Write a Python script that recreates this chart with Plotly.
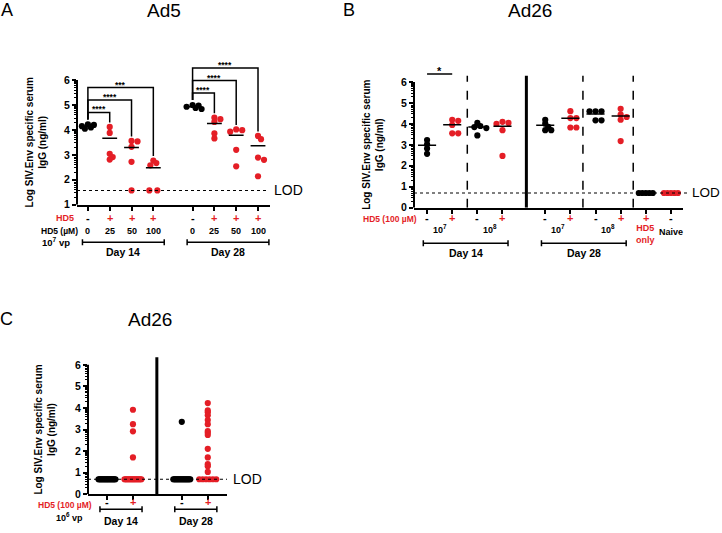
import numpy as np
import plotly.graph_objects as go

W, H = 722, 533
RED = "#E41E26"
FONT = "Liberation Sans, Arial, Helvetica, sans-serif"

# ---------------- DATA (log10 SIV.Env-specific serum IgG, ng/ml) ----------------
# Panel A: Ad5, 10^7 vp
a_hd5 = ["-", "+", "+", "+", "-", "+", "+", "+"]
a_dose = ["0", "25", "50", "100", "0", "25", "50", "100"]
a_days = ["Day 14", "Day 28"]
a_d14_0 = [4.22, 4.20, 4.15, 4.10, 4.05]
a_d14_25 = [4.12, 3.88, 3.04, 2.91, 2.81]
a_d14_50 = [3.56, 3.54, 3.32, 2.72, 1.57]
a_d14_100 = [2.77, 2.67, 2.58, 1.57, 1.57]
a_d28_0 = [5.00, 4.98, 4.93, 4.88, 4.84]
a_d28_25 = [4.49, 4.43, 4.32, 3.86, 3.66]
a_d28_50 = [4.02, 3.99, 3.93, 3.20, 2.54]
a_d28_100 = [3.76, 3.63, 2.89, 2.80, 2.14]
a_sig = ["****", "****", "***", "****", "****", "****"]
a_lod = 1.57

# Panel B: Ad26
b_hd5 = ["-", "+", "-", "+", "-", "+", "-", "+", "+", "-"]
b_vp = ["10<sup>7</sup>", "10<sup>8</sup>", "10<sup>7</sup>", "10<sup>8</sup>"]
b_days = ["Day 14", "Day 28"]
b_d14_e7_neg = [3.23, 3.02, 2.82, 2.57]
b_d14_e7_pos = [4.20, 4.15, 3.95, 3.55, 3.55]
b_d14_e8_neg = [4.05, 3.90, 3.85, 3.80, 3.45]
b_d14_e8_pos = [4.10, 4.05, 4.00, 3.70, 2.47]
b_d28_e7_neg = [4.20, 4.01, 3.86, 3.70, 3.70]
b_d28_e7_pos = [4.61, 4.28, 4.28, 3.83, 3.83]
b_d28_e8_neg = [4.60, 4.60, 4.60, 4.17, 4.17]
b_d28_e8_pos = [4.72, 4.44, 4.33, 4.20, 3.18]
b_hd5_only = [0.70, 0.70, 0.70, 0.70, 0.70]
b_naive = [0.70, 0.70, 0.70, 0.70, 0.70]
b_sig = ["*"]
b_lod = 0.70

# Panel C: Ad26, 10^6 vp
c_hd5 = ["-", "+", "-", "+"]
c_days = ["Day 14", "Day 28"]
c_d14_neg = [0.70, 0.70, 0.70, 0.70, 0.70, 0.70, 0.70, 0.70, 0.70, 0.70,
             0.70, 0.70, 0.70, 0.70, 0.70, 0.70, 0.70, 0.70, 0.70, 0.70]
c_d14_pos = [3.92, 3.25, 2.92, 1.71, 0.70, 0.70, 0.70, 0.70, 0.70, 0.70,
             0.70, 0.70, 0.70, 0.70, 0.70, 0.70, 0.70, 0.70, 0.70, 0.70]
c_d28_neg = [3.36, 0.70, 0.70, 0.70, 0.70, 0.70, 0.70, 0.70, 0.70, 0.70,
             0.70, 0.70, 0.70, 0.70, 0.70, 0.70, 0.70, 0.70, 0.70, 0.70]
c_d28_pos = [4.23, 3.89, 3.80, 3.66, 3.44, 3.25, 2.93, 2.85, 2.75, 2.11,
             1.71, 1.40, 1.30, 1.04, 0.70, 0.70, 0.70, 0.70, 0.70, 0.70]
c_lod = 0.70

# ---------------- LAYOUT ----------------
def PX(p):
    return p / W


def PY(p):
    return 1 - p / H


POS = {
    "A": [0, 1, 2, 3, 4.8, 5.8, 6.8, 7.8],
    "B": [0, 1, 2, 3, 4.7, 5.7, 6.7, 7.7, 8.7, 9.7],
    "C": [0, 1, 2.88, 3.88],
}
PANELS = {
    "A": dict(ax="", xpx=(77, 270), xr=(-0.5, 8.35), ylo=(1, 207), yhi=(6, 81), ytop=6.9),
    "B": dict(ax="2", xpx=(414, 683), xr=(-0.52, 10.18), ylo=(0, 210), yhi=(6, 83), ytop=6.6),
    "C": dict(ax="3", xpx=(88, 227), xr=(-0.73, 4.62), ylo=(0, 500), yhi=(6, 369), ytop=6.5),
}

fig = go.Figure()
shapes, anns = [], []


def ann(text, x, y, xref="paper", yref="paper", size=10, color="black",
        xanchor="center", yanchor="middle", **kw):
    anns.append(dict(text=text, x=x, y=y, xref=xref, yref=yref, showarrow=False,
                     xanchor=xanchor, yanchor=yanchor, borderpad=0,
                     font=dict(family=FONT, size=size, color=color), **kw))


for key, p in PANELS.items():
    uy = (p["ylo"][1] - p["yhi"][1]) / (p["yhi"][0] - p["ylo"][0])
    ux = (p["xpx"][1] - p["xpx"][0]) / (p["xr"][1] - p["xr"][0])
    top_px = p["yhi"][1] - (p["ytop"] - p["yhi"][0]) * uy
    p["ux"], p["uy"] = ux, uy
    lo = p["ylo"][0]
    majors = list(range(lo, 7))
    minors = [k + np.log10(m) for k in range(lo, 6) for m in range(2, 10)]
    fig.layout["xaxis" + p["ax"]] = dict(
        domain=[PX(p["xpx"][0]), PX(p["xpx"][1])], range=list(p["xr"]),
        anchor="y" + p["ax"], showline=True, linecolor="black", linewidth=2,
        ticks="outside", ticklen=4, tickwidth=1.5, tickcolor="black",
        tickmode="array", tickvals=POS[key], showticklabels=False,
        showgrid=False, zeroline=False, fixedrange=True)
    fig.layout["yaxis" + p["ax"]] = dict(
        domain=[PY(p["ylo"][1]), PY(top_px)], range=[lo, p["ytop"]],
        anchor="x" + p["ax"], showline=False,
        ticks="outside", ticklen=4, tickwidth=1.5, tickcolor="black",
        tickmode="array", tickvals=majors, ticktext=[f"<b>{v}</b>" for v in majors],
        tickfont=dict(family=FONT, size=10.5, color="black"),
        minor=dict(tickmode="array", tickvals=minors, ticks="outside", ticklen=2,
                   tickwidth=1, tickcolor="black"),
        showgrid=False, zeroline=False, fixedrange=True)
    # y axis line from the lowest major tick to 6
    shapes.append(dict(type="line", xref=f"x{p['ax']} domain", yref="y" + p["ax"],
                       x0=0, x1=0, y0=lo, y1=6, line=dict(color="black", width=2)))


def swarm(vals, ux, uy, diam=6.0, lod=None, lod_half=0.0, stack=False):
    n = len(vals)
    off = [0.0] * n
    lod_idx = [i for i, v in enumerate(vals) if lod is not None and abs(v - lod) < 1e-9]
    if len(lod_idx) < 2:
        lod_idx = []
    for j, i in enumerate(lod_idx):
        off[i] = -lod_half + 2 * lod_half * j / (len(lod_idx) - 1)
    if stack:
        return off
    placed = [(off[i] * ux, vals[i] * uy) for i in lod_idx]
    rest = [i for i in range(n) if i not in lod_idx]
    for i in sorted(rest, key=lambda i: -vals[i]):
        yv = vals[i] * uy
        c = 0.0
        for k in range(40):
            c = ((k + 1) // 2) * (1 if k % 2 else -1) * diam * 0.5
            if all(np.hypot(c - px, yv - py) >= diam * 0.65 for px, py in placed):
                break
        placed.append((c, yv))
        off[i] = c / ux
    return off


def plot_groups(key, groups, colors, lod, lod_half_px, stack=False, mean_mask=None,
                mean_half=0.34):
    p = PANELS[key]
    pos = POS[key]
    mx, my = [], []
    for g, (vals, col, x0) in enumerate(zip(groups, colors, pos)):
        off = swarm(vals, p["ux"], p["uy"], lod=lod, lod_half=lod_half_px / p["ux"],
                    stack=stack)
        fig.add_trace(go.Scatter(
            x=[x0 + o for o in off], y=vals, mode="markers",
            marker=dict(size=6.2, color=col, line=dict(width=0)),
            xaxis="x" + p["ax"], yaxis="y" + p["ax"], cliponaxis=False,
            showlegend=False, hoverinfo="skip"))
        if mean_mask is not None and mean_mask[g]:
            m = float(np.log10(np.mean(np.power(10.0, vals))))
            mx += [x0 - mean_half, x0 + mean_half, None]
            my += [m, m, None]
    if mx:
        fig.add_trace(go.Scatter(x=mx, y=my, mode="lines",
                                 line=dict(color="black", width=1.5),
                                 xaxis="x" + p["ax"], yaxis="y" + p["ax"],
                                 showlegend=False, hoverinfo="skip"))


def sign_color(s):
    return RED if s == "+" else "black"


def bracket(xref, x0, x1, ypx, cap=3):
    path = (f"M {x0},{PY(ypx - cap)} L {x0},{PY(ypx + cap)} "
            f"M {x0},{PY(ypx)} L {x1},{PY(ypx)} "
            f"M {x1},{PY(ypx - cap)} L {x1},{PY(ypx + cap)}")
    shapes.append(dict(type="path", xref=xref, yref="paper", path=path,
                       line=dict(color="black", width=1.5)))


# ---------------- PANEL A ----------------
a_groups = [a_d14_0, a_d14_25, a_d14_50, a_d14_100, a_d28_0, a_d28_25, a_d28_50, a_d28_100]
a_colors = [sign_color(s) for s in a_hd5]
shapes.append(dict(type="line", xref="paper", yref="y", x0=PX(77), x1=PX(268),
                   y0=a_lod, y1=a_lod, line=dict(color="black", width=1.1, dash="dot")))
ann("LOD", PX(273), a_lod, "paper", "y", 14, xanchor="left")
plot_groups("A", a_groups, a_colors, a_lod, 4, mean_mask=[True] * 8)

posA = POS["A"]
a_pairs = [(0, 1), (0, 2), (0, 3), (4, 5), (4, 6), (4, 7)]
a_level = [0, 1, 2, 0, 1, 2]
for (i, j), lab, k in zip(a_pairs, a_sig, a_level):
    base = max(a_groups[i])
    top = base + 0.48 + 0.5 * k
    lb = base + 0.2
    rb = max(a_groups[j]) + 0.18
    shapes.append(dict(type="path", xref="x", yref="y",
                       path=f"M {posA[i]},{lb} L {posA[i]},{top} L {posA[j]},{top} L {posA[j]},{rb}",
                       line=dict(color="black", width=1.5)))
    ann(f"<b>{lab}</b>", (posA[i] + posA[j]) / 2, top, "x", "y", 8.5,
        yanchor="bottom", yshift=-3)

ann("<b>HD5</b>", PX(75), PY(220), size=9, color=RED, xanchor="right")
for x, s in zip(posA, a_hd5):
    ann(f"<b>{s}</b>", x, PY(220), "x", "paper", 11, sign_color(s))
ann("<b>HD5 (µM)</b>", PX(79), PY(234), size=8.5, xanchor="right")
for x, d in zip(posA, a_dose):
    ann(f"<b>{d}</b>", x, PY(234), "x", "paper", 9)
ann("<b>10<sup>7</sup> vp</b>", PX(56), PY(245), size=9.5)
for day, (g0, g1) in zip(a_days, [(0, 3), (4, 7)]):
    x0, x1 = posA[g0] - 0.25, posA[g1] + 0.5
    bracket("x", x0, x1, 245)
    ann(f"<b>{day}</b>", (x0 + x1) / 2, PY(255), "x", "paper", 10.5)

ann("A", PX(7), PY(10), size=18)
ann("Ad5", PX(164), PY(11), size=19)
ann("<b>Log SIV.Env specific serum<br>IgG (ng/ml)</b>", PX(36), 3.5, "paper", "y", 10,
    textangle=-90)

# ---------------- PANEL B ----------------
b_groups = [b_d14_e7_neg, b_d14_e7_pos, b_d14_e8_neg, b_d14_e8_pos,
            b_d28_e7_neg, b_d28_e7_pos, b_d28_e8_neg, b_d28_e8_pos,
            b_hd5_only, b_naive]
b_colors = [sign_color(s) for s in b_hd5[:8]] + ["black", RED]
posB = POS["B"]
for xd in [1.6, 6.2, 8.2]:
    shapes.append(dict(type="line", xref="x2", yref="y2", x0=xd, x1=xd, y0=0, y1=6.3,
                       line=dict(color="black", width=1.5, dash="dash")))
shapes.append(dict(type="line", xref="x2", yref="y2", x0=3.95, x1=3.95, y0=0, y1=6.3,
                   line=dict(color="black", width=3)))
shapes.append(dict(type="line", xref="paper", yref="y2", x0=PX(414), x1=PX(690),
                   y0=b_lod, y1=b_lod, line=dict(color="black", width=1.1, dash="dot")))
ann("LOD", PX(691), b_lod, "paper", "y2", 13.5, xanchor="left")
plot_groups("B", b_groups, b_colors, b_lod, 7, mean_mask=[True] * 8 + [False, False],
            mean_half=0.36)
shapes.append(dict(type="line", xref="x2", yref="y2", x0=posB[0], x1=posB[1],
                   y0=6.38, y1=6.38, line=dict(color="black", width=1.5)))
ann(f"<b>{b_sig[0]}</b>", (posB[0] + posB[1]) / 2, 6.38, "x2", "y2", 11,
    yanchor="bottom", yshift=-4)

ann("<b>HD5 (100 µM)</b>", PX(418), PY(221), size=8.5, color=RED, xanchor="right")
for x, s in zip(posB, b_hd5):
    ann(f"<b>{s}</b>", x, PY(220), "x2", "paper", 11, sign_color(s))
for k, lab in enumerate(b_vp):
    ann(f"<b>{lab}</b>", (posB[2 * k] + posB[2 * k + 1]) / 2, PY(232), "x2", "paper", 9)
ann("<b>HD5<br>only</b>", posB[8], PY(237), "x2", "paper", 9, RED)
ann("<b>Naive</b>", posB[9], PY(235), "x2", "paper", 9)
for day, (g0, g1) in zip(b_days, [(0, 3), (4, 7)]):
    x0, x1 = posB[g0] - 0.15, posB[g1] + 0.22
    bracket("x2", x0, x1, 246)
    ann(f"<b>{day}</b>", (x0 + x1) / 2, PY(256), "x2", "paper", 10.5)

ann("B", PX(349), PY(10), size=18)
ann("Ad26", PX(530), PY(11), size=19)
ann("<b>Log SIV.Env specific serum<br>IgG (ng/ml)</b>", PX(373), 3, "paper", "y2", 10,
    textangle=-90)

# ---------------- PANEL C ----------------
c_groups = [c_d14_neg, c_d14_pos, c_d28_neg, c_d28_pos]
c_colors = [sign_color(s) for s in c_hd5]
posC = POS["C"]
shapes.append(dict(type="line", xref="x3", yref="y3", x0=1.92, x1=1.92, y0=0, y1=6.35,
                   line=dict(color="black", width=3)))
shapes.append(dict(type="line", xref="paper", yref="y3", x0=PX(88), x1=PX(227),
                   y0=c_lod, y1=c_lod, line=dict(color="black", width=1.1, dash="dot")))
ann("LOD", PX(232), c_lod, "paper", "y3", 14, xanchor="left")
plot_groups("C", c_groups, c_colors, c_lod, 8.5, stack=True)

ann("<b>HD5 (100 µM)</b>", PX(93), PY(510.5), size=8.5, color=RED, xanchor="right")
for x, s in zip(posC, c_hd5):
    ann(f"<b>{s}</b>", x, PY(508), "x3", "paper", 11, sign_color(s))
ann("<b>10<sup>6</sup> vp</b>", PX(69), PY(523), size=9)
for day, (g0, g1) in zip(c_days, [(0, 1), (2, 3)]):
    x0, x1 = posC[g0] - 0.27, posC[g1] + 0.35
    bracket("x3", x0, x1, 515)
    ann(f"<b>{day}</b>", (x0 + x1) / 2, PY(527), "x3", "paper", 10.5)

ann("C", PX(7), PY(323), size=18)
ann("Ad26", PX(150), PY(323), size=19)
ann("<b>Log SIV.Env specific serum<br>IgG (ng/ml)</b>", PX(45), 3, "paper", "y3", 10,
    textangle=-90)

fig.update_layout(
    width=W, height=H, margin=dict(l=0, r=0, t=0, b=0),
    paper_bgcolor="white", plot_bgcolor="white",
    font=dict(family=FONT, color="black"),
    shapes=shapes, annotations=anns, showlegend=False,
)
fig.write_html(
    "out.html",
    config={"displayModeBar": False},
    post_script="document.body.style.margin='0';document.body.style.padding='0';",
)
